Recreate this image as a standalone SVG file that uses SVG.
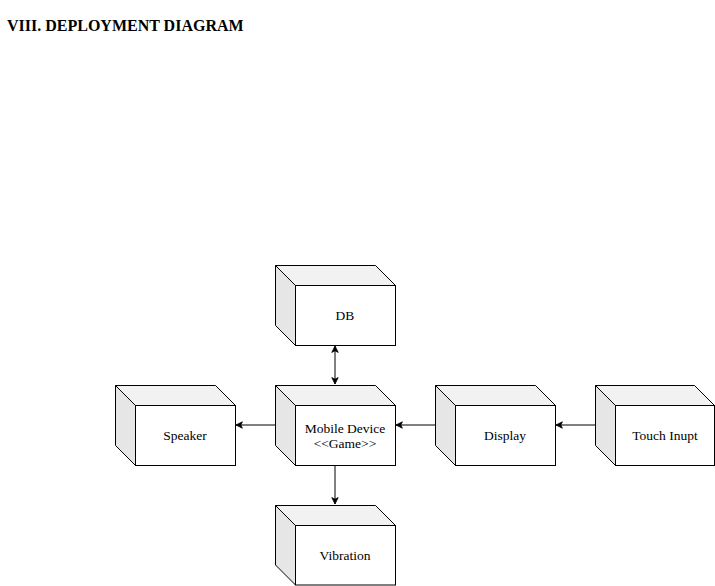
<svg xmlns="http://www.w3.org/2000/svg" width="715" height="586" viewBox="0 0 715 586">
<style>
.front{fill:#ffffff;stroke:#000000;stroke-width:1}
.top{fill:#f2f2f2;stroke:#000000;stroke-width:1;stroke-linejoin:miter}
.side{fill:#e6e6e6;stroke:#000000;stroke-width:1}
.lbl{font-family:"Liberation Serif","Times New Roman",serif;font-size:13.5px;fill:#000000;text-anchor:middle}
.title{font-family:"Liberation Serif","Times New Roman",serif;font-size:16px;font-weight:bold;fill:#000000}
.edge{fill:none;stroke:#000000;stroke-width:1}
</style>
<defs>
<marker id="arr" viewBox="0 0 10 10" refX="9" refY="5" markerWidth="8" markerHeight="8" markerUnits="userSpaceOnUse" orient="auto-start-reverse">
<path d="M1,1 L9,5 L1,9 L3,5 Z" fill="#000000" stroke="#000000" stroke-width="1"/>
</marker>
</defs>
<rect width="715" height="586" fill="#ffffff"/>
<text class="title" x="7" y="31">VIII. DEPLOYMENT DIAGRAM</text>

<g id="edges">
<line class="edge" x1="335" y1="346" x2="335" y2="384" marker-start="url(#arr)" marker-end="url(#arr)"/>
<line class="edge" x1="275" y1="425" x2="236" y2="425" marker-end="url(#arr)"/>
<line class="edge" x1="435" y1="425" x2="396" y2="425" marker-end="url(#arr)"/>
<line class="edge" x1="595" y1="425" x2="556" y2="425" marker-end="url(#arr)"/>
<line class="edge" x1="335" y1="465" x2="335" y2="504" marker-end="url(#arr)"/>
</g>

<g id="db">
<polygon class="top" points="275.5,265.5 375.5,265.5 395.5,285.5 295.5,285.5"/>
<polygon class="side" points="275.5,265.5 295.5,285.5 295.5,345.5 275.5,325.5"/>
<rect class="front" x="295.5" y="285.5" width="100" height="60"/>
<text class="lbl" x="345" y="320">DB</text>
</g>

<g id="mobile">
<polygon class="top" points="275.5,385.5 375.5,385.5 395.5,405.5 295.5,405.5"/>
<polygon class="side" points="275.5,385.5 295.5,405.5 295.5,465.5 275.5,445.5"/>
<rect class="front" x="295.5" y="405.5" width="100" height="60"/>
<text class="lbl" x="345" y="432.5">Mobile Device</text>
<text class="lbl" x="345" y="447.5">&lt;&lt;Game&gt;&gt;</text>
</g>

<g id="speaker">
<polygon class="top" points="115.5,385.5 215.5,385.5 235.5,405.5 135.5,405.5"/>
<polygon class="side" points="115.5,385.5 135.5,405.5 135.5,465.5 115.5,445.5"/>
<rect class="front" x="135.5" y="405.5" width="100" height="60"/>
<text class="lbl" x="185" y="440">Speaker</text>
</g>

<g id="display">
<polygon class="top" points="435.5,385.5 535.5,385.5 555.5,405.5 455.5,405.5"/>
<polygon class="side" points="435.5,385.5 455.5,405.5 455.5,465.5 435.5,445.5"/>
<rect class="front" x="455.5" y="405.5" width="100" height="60"/>
<text class="lbl" x="505" y="440">Display</text>
</g>

<g id="touch">
<polygon class="top" points="595.5,385.5 694.5,385.5 714.5,405.5 615.5,405.5"/>
<polygon class="side" points="595.5,385.5 615.5,405.5 615.5,465.5 595.5,445.5"/>
<rect class="front" x="615.5" y="405.5" width="99" height="60"/>
<text class="lbl" x="665" y="440">Touch Inupt</text>
</g>

<g id="vibration">
<polygon class="top" points="275.5,505.5 375.5,505.5 395.5,525.5 295.5,525.5"/>
<polygon class="side" points="275.5,505.5 295.5,525.5 295.5,585 275.5,565"/>
<rect class="front" x="295.5" y="525.5" width="100" height="59.5"/>
<text class="lbl" x="345" y="560">Vibration</text>
</g>
</svg>
